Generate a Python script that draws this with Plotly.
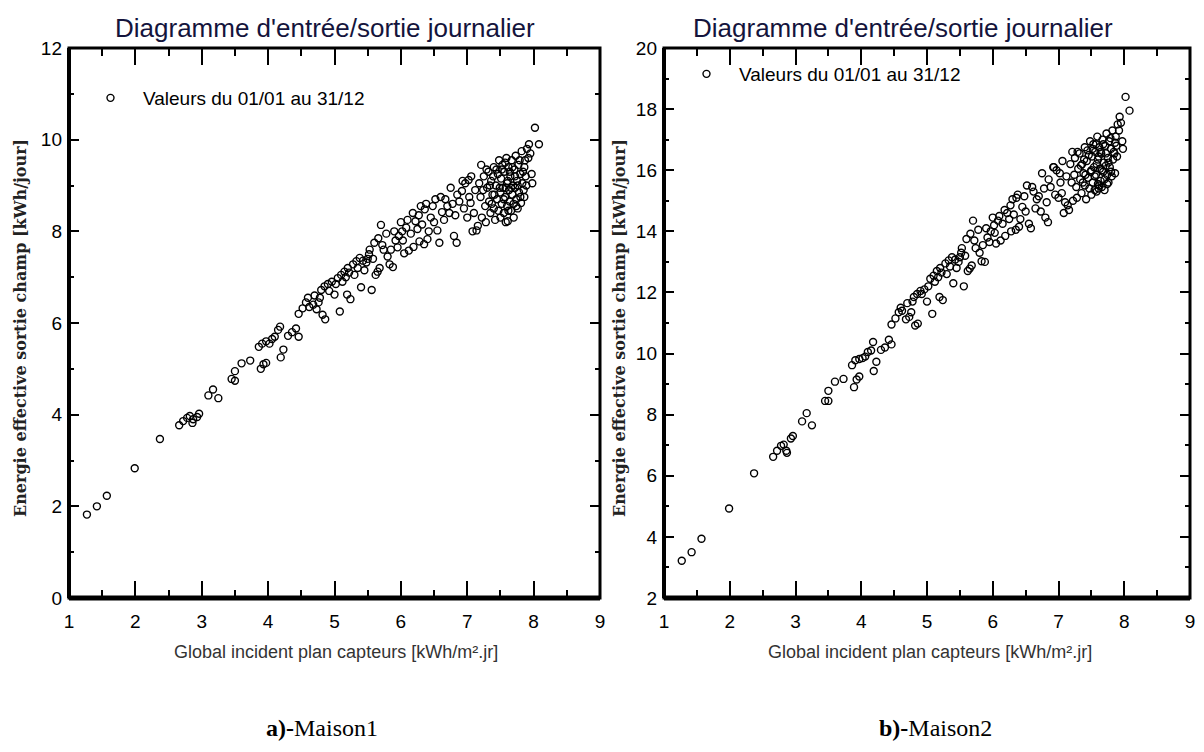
import plotly.graph_objects as go

# ---------------- data ----------------
irradiance = [
    1.27, 1.42, 1.57, 1.99, 2.37, 2.66, 2.72, 2.78, 2.82, 2.86,
    2.87, 2.93, 2.96, 3.10, 3.17, 3.25, 3.45, 3.50, 3.50, 3.60,
    3.73, 3.89, 3.93, 3.97, 3.86, 3.91, 3.97, 4.02, 4.06, 4.10,
    4.15, 4.18, 4.19, 4.23, 4.30, 4.36, 4.42, 4.46, 4.46, 4.52,
    4.57, 4.60, 4.68, 4.73, 4.76, 4.82, 4.86, 4.80, 4.85, 4.90,
    4.96, 5.00, 5.08, 4.62, 4.70, 4.78, 4.92, 5.02, 5.05, 5.10,
    5.15, 5.20, 5.19, 5.24, 5.28, 5.33, 5.38, 5.43, 5.48, 5.40,
    5.56, 5.12, 5.17, 5.22, 5.30, 5.35, 5.45, 5.50, 5.53, 5.62,
    5.65, 5.68, 5.60, 5.66, 5.70, 5.74, 5.80, 5.83, 5.88, 5.92,
    5.97, 6.02, 6.08, 5.52, 5.58, 5.72, 5.78, 5.85, 5.90, 5.95,
    6.00, 6.03, 6.05, 6.12, 6.19, 6.22, 6.27, 6.30, 6.36, 6.28,
    6.35, 6.40, 6.45, 6.52, 6.55, 6.58, 6.62, 6.67, 6.73, 6.80,
    6.84, 6.78, 6.85, 6.92, 6.97, 7.02, 6.95, 6.10, 6.15, 6.18,
    6.25, 6.32, 6.38, 6.42, 6.48, 6.50, 6.60, 6.65, 6.70, 6.75,
    6.82, 6.88, 6.93, 7.03, 7.06, 7.00, 7.08, 7.05, 7.10, 7.14,
    7.16, 7.12, 7.18, 7.20, 7.22, 7.25, 7.27, 7.28, 7.30, 7.32,
    7.33, 7.35, 7.36, 7.38, 7.40, 7.40, 7.42, 7.43, 7.45, 7.46,
    7.47, 7.48, 7.50, 7.50, 7.51, 7.52, 7.53, 7.54, 7.55, 7.56,
    7.57, 7.58, 7.59, 7.60, 7.60, 7.61, 7.62, 7.63, 7.64, 7.65,
    7.66, 7.67, 7.68, 7.69, 7.70, 7.71, 7.72, 7.73, 7.74, 7.75,
    7.76, 7.77, 7.78, 7.80, 7.81, 7.82, 7.83, 7.85, 7.86, 7.88,
    7.90, 7.92, 7.93, 7.95, 7.97, 7.98, 8.02, 8.08, 7.21, 7.24,
    7.29, 7.34, 7.37, 7.39, 7.41, 7.44, 7.49, 7.52, 7.55, 7.57,
    7.58, 7.61, 7.62, 7.64, 7.66, 7.68, 7.70, 7.72, 7.74, 7.76,
    7.79, 7.80, 7.84, 7.86, 7.87, 7.89,
]

energie_maison1 = [
    1.82, 2.00, 2.23, 2.83, 3.47, 3.77, 3.86, 3.93, 3.97, 3.82,
    3.90, 3.95, 4.02, 4.42, 4.55, 4.36, 4.78, 4.74, 4.95, 5.12,
    5.18, 5.00, 5.10, 5.13, 5.48, 5.55, 5.60, 5.55, 5.65, 5.70,
    5.85, 5.92, 5.25, 5.42, 5.72, 5.80, 5.88, 5.70, 6.20, 6.32,
    6.45, 6.55, 6.40, 6.30, 6.45, 6.18, 6.08, 6.72, 6.80, 6.85,
    6.90, 6.62, 6.25, 6.35, 6.60, 6.55, 6.70, 6.85, 6.98, 7.05,
    7.12, 7.20, 6.62, 6.52, 7.28, 7.35, 7.42, 7.36, 7.32, 6.78,
    6.72, 6.90, 7.00, 7.10, 7.05, 7.20, 7.15, 7.40, 7.60, 7.05,
    7.12, 7.20, 7.75, 7.85, 8.14, 7.60, 7.45, 7.28, 7.22, 7.80,
    7.90, 8.00, 8.08, 7.50, 7.40, 7.70, 7.95, 7.60, 8.00, 7.65,
    8.20, 7.80, 7.52, 7.58, 7.66, 8.22, 8.35, 8.55, 8.48, 7.78,
    7.72, 7.83, 8.30, 8.70, 8.02, 7.75, 8.42, 8.70, 8.40, 7.90,
    7.75, 8.60, 8.80, 8.88, 9.05, 9.12, 8.50, 8.25, 7.95, 8.40,
    8.05, 8.15, 8.60, 8.00, 8.55, 8.20, 8.75, 8.25, 8.55, 8.95,
    8.35, 8.65, 9.10, 8.75, 9.20, 8.30, 8.00, 8.62, 8.40, 8.02,
    8.12, 8.90, 9.05, 8.75, 8.30, 9.20, 8.55, 8.20, 8.95, 9.30,
    8.65, 8.40, 9.10, 8.80, 9.40, 8.50, 8.25, 9.00, 8.70, 9.25,
    8.45, 9.55, 8.85, 8.30, 9.15, 8.60, 9.45, 8.95, 8.40, 9.30,
    8.75, 8.20, 9.60, 9.05, 8.55, 8.22, 9.40, 8.90, 8.65, 9.20,
    8.45, 9.55, 8.80, 9.00, 8.60, 9.35, 8.95, 9.65, 8.70, 9.10,
    8.50, 9.45, 8.85, 9.25, 8.62, 9.75, 9.05, 8.90, 9.40, 9.20,
    9.80, 9.60, 9.90, 9.70, 9.25, 9.05, 10.26, 9.90, 9.45, 8.90,
    9.35, 9.00, 8.60, 9.20, 8.80, 9.35, 8.95, 9.35, 8.70, 9.50,
    8.95, 9.10, 8.45, 9.30, 8.95, 9.40, 8.30, 9.20, 8.55, 9.00,
    9.55, 8.75, 9.30, 8.75, 9.55, 9.00,
]

energie_maison2 = [
    3.22, 3.50, 3.94, 4.93, 6.08, 6.62, 6.82, 6.98, 7.02, 6.82,
    6.75, 7.22, 7.30, 7.78, 8.05, 7.65, 8.45, 8.45, 8.78, 9.08,
    9.17, 8.90, 9.15, 9.25, 9.62, 9.78, 9.82, 9.85, 9.90, 10.05,
    10.10, 10.38, 9.43, 9.73, 10.12, 10.20, 10.45, 10.30, 10.95, 11.15,
    11.35, 11.50, 11.12, 11.20, 11.35, 10.92, 10.98, 11.85, 11.95, 12.05,
    12.10, 11.70, 11.30, 11.40, 11.65, 11.70, 11.95, 12.20, 12.45, 12.55,
    12.70, 12.80, 11.85, 11.75, 12.95, 13.05, 13.15, 13.08, 13.00, 12.30,
    12.20, 12.35, 12.50, 12.65, 12.60, 12.85, 12.80, 13.15, 13.45, 12.70,
    12.78, 12.88, 13.75, 13.92, 14.35, 13.45, 13.30, 13.02, 13.00, 13.80,
    14.00, 14.20, 14.35, 13.30, 13.20, 13.70, 14.05, 13.55, 14.10, 13.65,
    14.45, 13.95, 13.60, 13.70, 13.85, 14.60, 14.85, 15.05, 15.10, 14.00,
    14.05, 14.15, 14.80, 15.50, 14.25, 14.10, 15.30, 15.05, 14.65, 14.45,
    14.30, 15.40, 15.70, 16.10, 16.00, 15.90, 15.20, 14.50, 14.25, 14.70,
    14.40, 14.55, 15.20, 14.40, 15.15, 14.65, 15.45, 14.75, 15.15, 15.90,
    14.95, 15.45, 16.10, 15.60, 16.30, 15.10, 14.60, 15.25, 14.95, 14.85,
    14.70, 15.80, 16.20, 15.60, 15.00, 16.40, 15.45, 15.10, 16.05, 16.55,
    15.70, 15.25, 16.20, 15.90, 16.75, 15.50, 15.05, 16.30, 15.75, 16.50,
    15.40, 16.95, 16.00, 15.20, 16.45, 15.60, 16.85, 16.10, 15.35, 16.60,
    15.85, 15.30, 17.10, 16.35, 15.55, 15.40, 16.75, 16.05, 15.65, 16.55,
    15.45, 17.00, 15.95, 16.25, 15.70, 16.80, 16.15, 17.20, 15.85, 16.40,
    15.60, 16.95, 16.10, 16.70, 15.80, 17.30, 16.35, 16.55, 16.90, 16.80,
    17.50, 17.30, 17.75, 17.55, 16.95, 16.70, 18.40, 17.95, 16.60, 15.85,
    16.60, 16.15, 15.60, 16.35, 15.85, 16.65, 15.95, 16.70, 15.80, 16.85,
    16.20, 16.45, 15.50, 16.60, 16.00, 16.85, 15.35, 16.55, 15.55, 16.25,
    17.05, 15.95, 16.60, 15.90, 17.10, 16.45,
]

assert len(irradiance) == len(energie_maison1) == len(energie_maison2)

x_range = [1, 9]
y_range_m1 = [0, 12]
y_range_m2 = [2, 20]

title_text = "Diagramme d'entrée/sortie journalier"
x_title = "Global incident plan capteurs [kWh/m².jr]"
y_title = "Energie effective sortie champ [kWh/jour]"
legend_text = "Valeurs du 01/01 au 31/12"
captions = ["<b>a)-</b>Maison1", "<b>b)-</b>Maison2"]

# ---------------- layout helpers ----------------
# the page body has an 8px margin, so the figure starts at (8, 8)
OFF = 8
W, H = 1204 - OFF, 752 - 2 * OFF


def px(x):
    return (x - OFF) / W


def py(y):
    return 1 - (y - OFF) / H


SANS = "Liberation Sans Narrow, Arial Narrow, Liberation Sans, sans-serif"
SERIF = "Liberation Serif, Times New Roman, serif"

fig = go.Figure()

marker = dict(symbol="circle-open", size=7, color="black",
              line=dict(width=1.4, color="black"))

fig.add_trace(go.Scatter(x=irradiance, y=energie_maison1, mode="markers",
                         marker=marker, name=legend_text,
                         xaxis="x", yaxis="y", legend="legend"))
fig.add_trace(go.Scatter(x=irradiance, y=energie_maison2, mode="markers",
                         marker=marker, name=legend_text,
                         xaxis="x2", yaxis="y2", legend="legend2"))

tickfont = dict(family=SANS, size=19, color="black")
xaxis_common = dict(
    showline=False, mirror="allticks",
    ticks="inside", ticklen=17, tickwidth=1.5, tickcolor="black",
    showgrid=False, zeroline=False, tickfont=tickfont,
    range=x_range, dtick=1, ticklabelstandoff=10,
    minor=dict(ticks="inside", ticklen=8, tickwidth=1.5,
               tickcolor="black", dtick=0.5, showgrid=False),
)
yaxis_common = dict(
    showline=False, mirror="allticks",
    ticks="inside", ticklen=10, tickwidth=1.5, tickcolor="black",
    showgrid=False, zeroline=False, tickfont=tickfont,
    dtick=2, ticklabelstandoff=6,
    minor=dict(ticks="inside", ticklen=5, tickwidth=1.5,
               tickcolor="black", dtick=1, showgrid=False),
)

left_dom = [px(69), px(600)]
right_dom = [px(664), px(1190)]
y_dom = [py(598), py(48)]

fig.update_layout(
    width=W, height=H,
    paper_bgcolor="white", plot_bgcolor="white",
    margin=dict(l=0, r=0, t=0, b=0, autoexpand=False),
    xaxis=dict(xaxis_common, domain=left_dom, anchor="y"),
    yaxis=dict(yaxis_common, domain=y_dom, range=y_range_m1, anchor="x"),
    xaxis2=dict(xaxis_common, domain=right_dom, anchor="y2"),
    yaxis2=dict(yaxis_common, domain=y_dom, range=y_range_m2, anchor="x2"),
    legend=dict(x=px(78), y=py(98), xanchor="left", yanchor="middle",
                bgcolor="rgba(0,0,0,0)", borderwidth=0, itemwidth=55,
                font=dict(family=SANS, size=19, color="black")),
    legend2=dict(x=px(674), y=py(74), xanchor="left", yanchor="middle",
                 bgcolor="rgba(0,0,0,0)", borderwidth=0, itemwidth=55,
                 font=dict(family=SANS, size=19, color="black")),
    showlegend=True,
)

# axis frames (thick bottom/left like the original)
shapes = []
for xa, ya in [("x", "y"), ("x2", "y2")]:
    shapes.append(dict(type="rect", xref=f"{xa} domain", yref=f"{ya} domain",
                       x0=0, x1=1, y0=0, y1=1,
                       line=dict(color="black", width=3)))
    shapes.append(dict(type="line", xref=f"{xa} domain", yref=f"{ya} domain",
                       x0=0, x1=1, y0=0, y1=0,
                       line=dict(color="black", width=5)))
    shapes.append(dict(type="line", xref=f"{xa} domain", yref=f"{ya} domain",
                       x0=0, x1=0, y0=0, y1=1,
                       line=dict(color="black", width=4)))
fig.update_layout(shapes=shapes)

annotations = []
for cx in [325, 903]:
    annotations.append(dict(text=title_text, x=px(cx), y=py(28), xref="paper",
                            yref="paper", showarrow=False, xanchor="center",
                            yanchor="middle",
                            font=dict(family=SANS, size=26, color="#14143c")))
for cx in [336, 930]:
    annotations.append(dict(text=x_title, x=px(cx), y=py(652), xref="paper",
                            yref="paper", showarrow=False, xanchor="center",
                            yanchor="middle",
                            font=dict(family=SANS, size=18, color="#333333")))
for cx in [21, 620]:
    annotations.append(dict(text="<b>" + y_title + "</b>", x=px(cx), y=py(328),
                            xref="paper", yref="paper", showarrow=False,
                            xanchor="center", yanchor="middle", textangle=-90,
                            font=dict(family="DejaVu Serif, serif", size=16,
                                      color="#222222")))
for cx, cap in zip([322, 935], captions):
    annotations.append(dict(text=cap, x=px(cx), y=py(728), xref="paper",
                            yref="paper", showarrow=False, xanchor="center",
                            yanchor="middle",
                            font=dict(family=SERIF, size=24, color="black")))
fig.update_layout(annotations=annotations)

fig.write_html("out.html")
